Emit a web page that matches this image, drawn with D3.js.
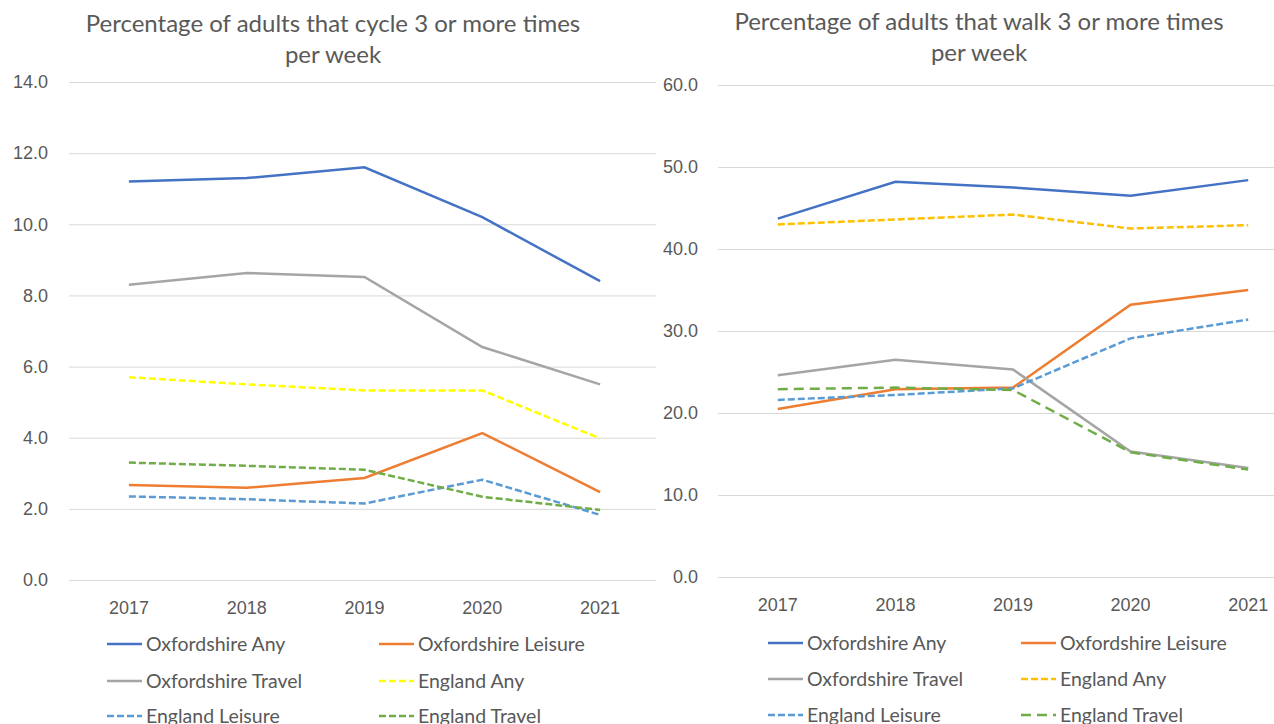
<!DOCTYPE html>
<html>
<head>
<meta charset="utf-8">
<script src="https://cdn.jsdelivr.net/npm/d3@7"></script>
<style>
  body { margin: 0; background: #fff; }
  svg { display: block; font-family: Lato, "Open Sans", sans-serif; }
</style>
</head>
<body>
<div id="chart"></div>
<script>
const years = ["2017", "2018", "2019", "2020", "2021"];
const seriesNames = ["Oxfordshire Any", "Oxfordshire Leisure", "Oxfordshire Travel",
  "England Any", "England Leisure", "England Travel"];

// cycling, % of adults
const cycleOxfordshireAny = [11.2, 11.3, 11.6, 10.2, 8.4];
const cycleOxfordshireLeisure = [2.67, 2.59, 2.87, 4.13, 2.47];
const cycleOxfordshireTravel = [8.3, 8.63, 8.52, 6.55, 5.5];
const cycleEnglandAny = [5.7, 5.5, 5.33, 5.33, 3.98];
const cycleEnglandLeisure = [2.35, 2.27, 2.15, 2.82, 1.83];
const cycleEnglandTravel = [3.3, 3.21, 3.1, 2.34, 1.97];

// walking, % of adults
const walkOxfordshireAny = [43.7, 48.2, 47.5, 46.5, 48.4];
const walkOxfordshireLeisure = [20.5, 22.9, 23.1, 33.2, 35.0];
const walkOxfordshireTravel = [24.6, 26.5, 25.3, 15.3, 13.3];
const walkEnglandAny = [43.0, 43.6, 44.2, 42.5, 42.9];
const walkEnglandLeisure = [21.6, 22.2, 23.0, 29.1, 31.4];
const walkEnglandTravel = [22.9, 23.1, 22.8, 15.2, 13.1];

const cycleTicks = [0, 2, 4, 6, 8, 10, 12, 14];
const walkTicks = [0, 10, 20, 30, 40, 50, 60];

const W = 1274, H = 724;
const svg = d3.select("#chart").append("svg")
  .attr("width", W).attr("height", H);

const textColor = "#595959";

function drawPanel(p) {
  const g = svg.append("g");

  // white backing, so the right chart covers the left one
  g.append("rect")
    .attr("x", p.bgX).attr("y", 0)
    .attr("width", W - p.bgX).attr("height", H)
    .attr("fill", "#fff");

  const x = d3.scaleBand().domain(years).range([p.x0, p.x1]);
  const y = d3.scaleLinear().domain([0, d3.max(p.ticks)]).range([p.y0, p.y1]);

  // title
  g.append("text")
    .attr("x", p.titleX).attr("y", p.titleY)
    .attr("text-anchor", "middle")
    .attr("fill", textColor)
    .style("font-size", "24px")
    .selectAll("tspan")
    .data(p.title)
    .join("tspan")
    .attr("x", p.titleX)
    .attr("dy", (d, i) => i === 0 ? 0 : 31)
    .text(d => d);

  // y axis + gridlines
  const yAxis = g.append("g")
    .attr("transform", `translate(${p.gridX0},0)`)
    .call(d3.axisLeft(y).tickValues(p.ticks)
      .tickSize(-(p.gridX1 - p.gridX0))
      .tickPadding(p.gridX0 - p.labelX)
      .tickFormat(d3.format(".1f")));
  yAxis.select(".domain").remove();
  yAxis.selectAll(".tick line").attr("stroke", "#d9d9d9").attr("stroke-width", 1);
  yAxis.selectAll(".tick text")
    .attr("fill", textColor).style("font-size", "18px");

  // x axis
  const xAxis = g.append("g")
    .attr("transform", `translate(0,${p.y0})`)
    .call(d3.axisBottom(x).tickSize(0).tickPadding(p.xLabelPad));
  xAxis.select(".domain").remove();
  xAxis.selectAll(".tick text")
    .attr("fill", textColor).style("font-size", "18px");

  const line = d3.line()
    .x((d, i) => x(years[i]) + x.bandwidth() / 2)
    .y(d => y(d));

  // draw in legend order
  p.series.forEach((vals, i) => {
    g.append("path")
      .datum(vals)
      .attr("d", line)
      .attr("fill", "none")
      .attr("stroke", p.colors[i])
      .attr("stroke-width", 2.5)
      .attr("stroke-dasharray", p.dashes[i]);
  });

  // legend
  const leg = g.append("g");
  seriesNames.forEach((name, i) => {
    const col = i % 2, row = Math.floor(i / 2);
    const lx = p.legCols[col], ly = p.legRows[row];
    leg.append("line")
      .attr("x1", lx).attr("x2", lx + 35)
      .attr("y1", ly).attr("y2", ly)
      .attr("stroke", p.colors[i])
      .attr("stroke-width", 2.5)
      .attr("stroke-dasharray", p.dashes[i]);
    leg.append("text")
      .attr("x", lx + 39).attr("y", ly)
      .attr("dy", "0.35em")
      .attr("fill", textColor)
      .style("font-size", "19.5px")
      .text(name);
  });
}

drawPanel({
  bgX: 0,
  title: ["Percentage of adults that cycle 3 or more times", "per week"],
  titleX: 333, titleY: 32,
  x0: 70, x1: 659, y0: 580, y1: 82,
  gridX0: 69, gridX1: 656, labelX: 48,
  xLabelPad: 21,
  ticks: cycleTicks,
  series: [cycleOxfordshireAny, cycleOxfordshireLeisure, cycleOxfordshireTravel,
    cycleEnglandAny, cycleEnglandLeisure, cycleEnglandTravel],
  colors: ["#4472c4", "#ed7d31", "#a5a5a5", "#ffff00", "#5b9bd5", "#70ad47"],
  dashes: [null, null, null, "7,3", "7,3", "7,3"],
  legCols: [107, 379],
  legRows: [644, 681, 716]
});

drawPanel({
  bgX: 657,
  title: ["Percentage of adults that walk 3 or more times", "per week"],
  titleX: 979, titleY: 30,
  x0: 719, x1: 1307, y0: 577, y1: 85,
  gridX0: 718, gridX1: 1274, labelX: 698,
  xLabelPad: 21,
  ticks: walkTicks,
  series: [walkOxfordshireAny, walkOxfordshireLeisure, walkOxfordshireTravel,
    walkEnglandAny, walkEnglandLeisure, walkEnglandTravel],
  colors: ["#4472c4", "#ed7d31", "#a5a5a5", "#ffc000", "#5b9bd5", "#70ad47"],
  dashes: [null, null, null, "7,3", "7,3", "10,6"],
  legCols: [768, 1021],
  legRows: [643, 679, 715]
});
</script>
</body>
</html>
